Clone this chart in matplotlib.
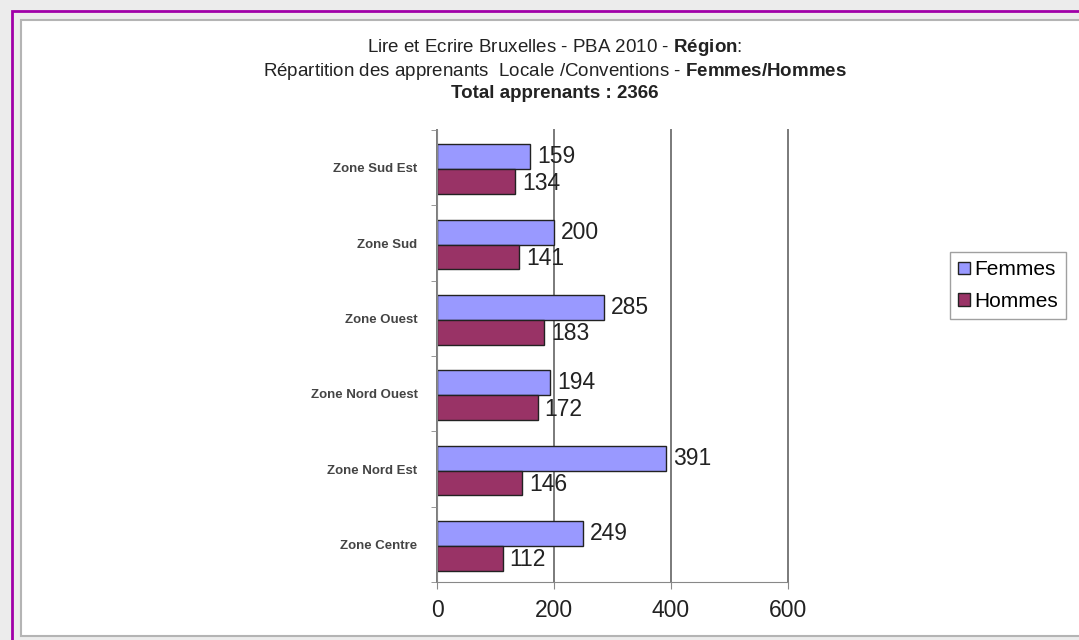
import matplotlib.pyplot as plt
from matplotlib.patches import Rectangle
import numpy as np

plt.rcParams['font.family'] = ['Liberation Sans', 'DejaVu Sans']
plt.rcParams['mathtext.fontset'] = 'custom'
plt.rcParams['mathtext.rm'] = 'Liberation Sans'
plt.rcParams['mathtext.bf'] = 'Liberation Sans:bold'

zones = ['Zone Sud Est', 'Zone Sud', 'Zone Ouest', 'Zone Nord Ouest',
         'Zone Nord Est', 'Zone Centre']
femmes = [159, 200, 285, 194, 391, 249]
hommes = [134, 141, 183, 172, 146, 112]

W, H = 1079, 640
fig = plt.figure(figsize=(W / 100, H / 100), dpi=100, facecolor='#ececec')

# page frame: purple border and white panel (behind the axes)
fig.patches.append(Rectangle((12 / W, -0.1), 1.2, (H - 11) / H + 0.1,
                             transform=fig.transFigure, facecolor='none',
                             edgecolor='#a000a8', linewidth=2, zorder=-10))
fig.patches.append(Rectangle((21 / W, (H - 636) / H), 1.2, (636 - 20) / H,
                             transform=fig.transFigure, facecolor='white',
                             edgecolor='#b4b4b4', linewidth=1.5, zorder=-9))

ax = fig.add_axes([437 / W, (H - 582) / H, (788 - 437) / W, (582 - 130) / H])
ax.set_facecolor('none')

y = np.arange(len(zones))
bh = 0.33
ax.barh(y - bh / 2 + 0.02, femmes, height=bh, color='#9999ff',
        edgecolor='#222222', linewidth=1, label='Femmes')
ax.barh(y + bh / 2 + 0.02, hommes, height=bh, color='#993366',
        edgecolor='#222222', linewidth=1, label='Hommes')

for i in range(len(zones)):
    ax.text(femmes[i] + 12, y[i] - bh / 2 + 0.02, str(femmes[i]), va='center',
            ha='left', fontsize=16.5, color='#222222')
    ax.text(hommes[i] + 12, y[i] + bh / 2 + 0.04, str(hommes[i]), va='center',
            ha='left', fontsize=16.5, color='#222222')

ax.set_xlim(0, 600)
ax.set_ylim(len(zones) - 0.5, -0.5)
ax.set_xticks([0, 200, 400, 600])
ax.tick_params(axis='x', labelsize=16.5, length=5, color='#888888',
               labelcolor='#222222', pad=7)
ax.set_yticks(y)
ax.set_yticklabels(zones, fontsize=9.5, fontweight='bold', color='#444444')
ax.set_yticks(np.arange(len(zones) + 1) - 0.5, minor=True)
ax.tick_params(axis='y', which='major', length=0, pad=14)
ax.tick_params(axis='y', which='minor', length=4, color='#888888')
ax.xaxis.grid(True, color='#7a7a7a', linewidth=1.4, clip_on=False)
ax.set_axisbelow(True)
for s in ['top', 'right']:
    ax.spines[s].set_visible(False)
ax.spines['left'].set_color('#888888')
ax.spines['bottom'].set_color('#888888')

# title
fig.text(555 / W, 1 - 48 / H, 'Lire et Ecrire Bruxelles - PBA 2010 - $\\bf{Région}$:',
         ha='center', va='center', fontsize=13.5, color='#222222')
fig.text(555 / W, 1 - 71 / H,
         'Répartition des apprenants  Locale /Conventions - $\\bf{Femmes/Hommes}$',
         ha='center', va='center', fontsize=13.5, color='#222222')
fig.text(555 / W, 1 - 94 / H, 'Total apprenants : 2366', ha='center',
         va='center', fontsize=13.5, fontweight='bold', color='#222222')

leg = fig.legend(loc='upper left', bbox_to_anchor=(950 / W, 1 - 252 / H),
                 fontsize=15, frameon=True, fancybox=False, handlelength=0.55,
                 handleheight=0.55, handletextpad=0.2, borderpad=0.4,
                 labelspacing=0.6, borderaxespad=0)
leg.get_frame().set_edgecolor('#888888')
leg.get_frame().set_linewidth(1)

fig.savefig('out.png', dpi=100, facecolor=fig.get_facecolor())
